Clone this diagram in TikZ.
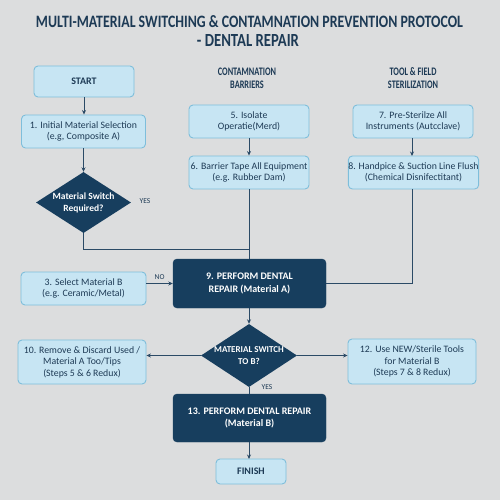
\documentclass[tikz,border=0pt]{standalone}
\usepackage{fontspec}
\setmainfont{Carlito}
\usetikzlibrary{shapes.geometric,arrows.meta}
\definecolor{bg}{HTML}{DCDDDE}
\definecolor{lfill}{HTML}{C7E5F3}
\definecolor{lborder}{HTML}{7EBEDB}
\definecolor{dfill}{HTML}{173E5E}
\definecolor{ink}{HTML}{1D3A55}
\definecolor{wire}{HTML}{2B4A66}
\newcommand{\cnd}[2]{\scalebox{#1}[1]{#2}}
\begin{document}
\begin{tikzpicture}[x=1pt,y=-1pt,
  lightbox/.style={draw=lborder, fill=lfill, line width=0.9pt, rounded corners=4pt, text=ink, align=center, font=\fontsize{9.8}{11.5}\selectfont, inner sep=0pt},
  darkbox/.style={draw=dfill, fill=dfill, rounded corners=4pt, text=white, align=center, font=\fontsize{10}{12.5}\selectfont\bfseries, inner sep=0pt},
  dec/.style={diamond, fill=dfill, inner sep=0pt},
  dectext/.style={text=white, align=center, inner sep=0pt, font=\fontsize{9.5}{12}\selectfont\bfseries},
  arr/.style={draw=wire, line width=1pt, -{Stealth[length=4.5pt,width=4pt]}},
  ln/.style={draw=wire, line width=1pt},
  lbl/.style={text=ink, font=\fontsize{7.5}{9}\selectfont, inner sep=0pt},
  hdr/.style={text=ink, align=center, font=\fontsize{11.5}{13}\selectfont\bfseries, inner sep=0pt}]
\fill[bg] (0,0) rectangle (500,500);
\useasboundingbox (0,0) rectangle (500,500);
% title
\node[text=ink, inner sep=0pt] (t1) at (249.5,22) {\resizebox{427pt}{12pt}{\bfseries MULTI-MATERIAL SWITCHING \& CONTAMNATION PREVENTION PROTOCOL}};
\node[text=ink, inner sep=0pt] (t2) at (248,41) {\resizebox{102pt}{12pt}{\bfseries - DENTAL REPAIR}};
% headers
\node[hdr] (h2) at (247,78.5) {\cnd{0.72}{CONTAMNATION}\\\cnd{0.72}{BARRIERS}};
\node[hdr] (h3) at (413,78.5) {\cnd{0.72}{TOOL \& FIELD}\\\cnd{0.72}{STERILIZATION}};
% column 1
\node[lightbox, minimum width=100pt, minimum height=31pt, font=\fontsize{10}{12}\selectfont\bfseries] (start) at (84,81.5) {START};
\node[lightbox, minimum width=124pt, minimum height=33pt] (n1) at (83.5,131.5) {1. Initial Material Selection\\(e.g, Composite A)};
\node[dec, minimum width=95pt, minimum height=61pt] (d1) at (83.5,202.5) {};
\node[dectext] (d1t) at (d1.center) {Material Switch\\Required?};
\node[lbl] (yes1) at (145,201.5) {YES};
\node[lightbox, minimum width=125pt, minimum height=33pt] (n3) at (83.5,288.5) {3. Select Material B\\(e.g. Ceramic/Metal)};
\node[lightbox, minimum width=128pt, minimum height=44pt] (n10) at (82,362) {10. Remove \& Discard Used /\\Material A Too/Tips\\(Steps 5 \& 6 Redux)};
% column 2
\node[lightbox, minimum width=120pt, minimum height=33pt] (n5) at (249,121.5) {5. Isolate\\Operatie(Merd)};
\node[lightbox, minimum width=120pt, minimum height=33pt] (n6) at (249,172.5) {6. Barrier Tape All Equipment\\(e.g. Rubber Dam)};
\node[darkbox, minimum width=153pt, minimum height=49pt] (n9) at (249.5,283.5) {9. PERFORM DENTAL\\REPAIR (Material A)};
\node[dec, minimum width=96pt, minimum height=63pt] (d2) at (249,355.5) {};
\node[dectext, font=\fontsize{9}{12}\selectfont\bfseries] (d2t) at (d2.center) {MATERIAL SWITCH\\TO B?};
\node[darkbox, minimum width=153pt, minimum height=48pt] (n13) at (249.5,418) {13. PERFORM DENTAL REPAIR\\(Material B)};
\node[lightbox, minimum width=70pt, minimum height=25pt, font=\fontsize{10}{12}\selectfont\bfseries] (fin) at (251,471.5) {FINISH};
% column 3
\node[lightbox, minimum width=120pt, minimum height=33pt] (n7) at (413,121.5) {7. Pre-Sterilze All\\Instruments (Autcclave)};
\node[lightbox, minimum width=125pt, minimum height=33pt] (n8) at (413.5,172.5) {8. Handpice \& Suction Line Flush\\(Chemical Disnifectitant)};
\node[lightbox, minimum width=128pt, minimum height=45pt] (n12) at (412,361.5) {12. Use NEW/Sterile Tools\\for Material B\\(Steps 7 \& 8 Redux)};
% connectors
\coordinate (j1) at (249,249);
\draw[arr] (start.south) -- (start.south |- n1.north);
\draw[arr] (n1.south) -- (n1.south |- d1.north);
\draw[ln] (d1.south) |- (j1);
\draw[arr] (n5.south) -- (n5.south |- n6.north);
\draw[ln] (n6.south) -- (n6.south |- n9.north);
\draw[arr] (n7.south -| 412,0) -- (412,156);
\draw[ln] (n8.south -| 412,0) |- (n9.east);
\draw[arr] (n9.west -| n3.east) -- (n9.west) node[lbl, midway, above=3pt] {NO};
\draw[arr] (n9.south -| d2.north) -- (d2.north);
\draw[arr] (d2.west) -- (n10.east |- d2.west);
\draw[arr] (d2.east) -- (n12.west |- d2.east);
\draw[ln] (d2.south) -- (d2.south |- n13.north);
\draw[arr] (n13.south -| 249,0) -- (249,459);
\node[lbl] (yes2) at (267,387) {YES};
\end{tikzpicture}
\end{document}
